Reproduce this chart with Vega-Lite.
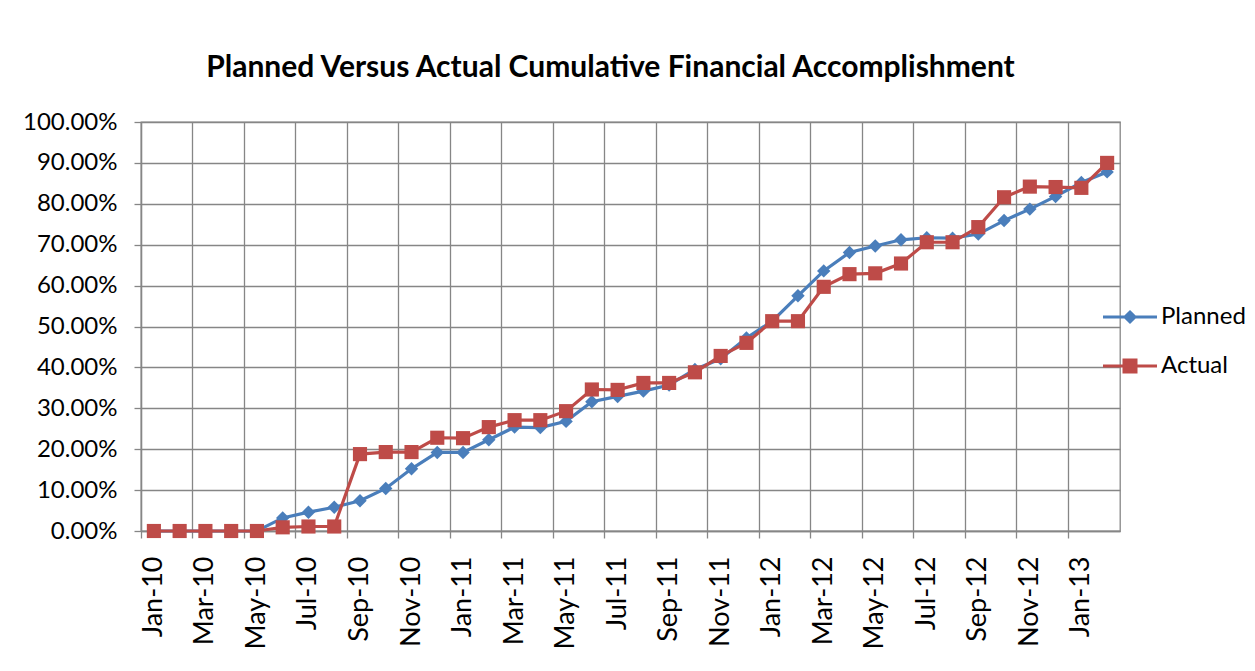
{
  "$schema": "https://vega.github.io/schema/vega-lite/v6.json",
  "autosize": "none",
  "width": 979,
  "height": 409,
  "padding": {"left": 141, "top": 122, "right": 135, "bottom": 140},
  "background": "white",
  "config": {
    "view": {"stroke": "#868686", "strokeWidth": 1.3},
    "font": "Lato"
  },
  "title": {
    "text": "Planned Versus Actual Cumulative Financial Accomplishment",
    "font": "Lato",
    "fontSize": 30,
    "fontWeight": "bold",
    "color": "black",
    "anchor": "middle",
    "frame": "group",
    "baseline": "alphabetic",
    "offset": 3,
    "dx": -20
  },
  "data": {
    "values": [
      {"m": "Jan-10", "Planned": 0, "Actual": 0},
      {"m": "Feb-10", "Planned": 0, "Actual": 0},
      {"m": "Mar-10", "Planned": 0, "Actual": 0},
      {"m": "Apr-10", "Planned": 0, "Actual": 0},
      {"m": "May-10", "Planned": 0, "Actual": 0},
      {"m": "Jun-10", "Planned": 0.032, "Actual": 0.009},
      {"m": "Jul-10", "Planned": 0.046, "Actual": 0.011},
      {"m": "Aug-10", "Planned": 0.058, "Actual": 0.011},
      {"m": "Sep-10", "Planned": 0.074, "Actual": 0.188},
      {"m": "Oct-10", "Planned": 0.104, "Actual": 0.193},
      {"m": "Nov-10", "Planned": 0.152, "Actual": 0.193},
      {"m": "Dec-10", "Planned": 0.192, "Actual": 0.228},
      {"m": "Jan-11", "Planned": 0.192, "Actual": 0.227},
      {"m": "Feb-11", "Planned": 0.223, "Actual": 0.254},
      {"m": "Mar-11", "Planned": 0.254, "Actual": 0.271},
      {"m": "Apr-11", "Planned": 0.253, "Actual": 0.271},
      {"m": "May-11", "Planned": 0.268, "Actual": 0.293},
      {"m": "Jun-11", "Planned": 0.316, "Actual": 0.346},
      {"m": "Jul-11", "Planned": 0.329, "Actual": 0.345},
      {"m": "Aug-11", "Planned": 0.342, "Actual": 0.362},
      {"m": "Sep-11", "Planned": 0.357, "Actual": 0.362},
      {"m": "Oct-11", "Planned": 0.395, "Actual": 0.388},
      {"m": "Nov-11", "Planned": 0.421, "Actual": 0.428},
      {"m": "Dec-11", "Planned": 0.472, "Actual": 0.46},
      {"m": "Jan-12", "Planned": 0.513, "Actual": 0.513},
      {"m": "Feb-12", "Planned": 0.575, "Actual": 0.513},
      {"m": "Mar-12", "Planned": 0.636, "Actual": 0.597},
      {"m": "Apr-12", "Planned": 0.681, "Actual": 0.628},
      {"m": "May-12", "Planned": 0.697, "Actual": 0.63},
      {"m": "Jun-12", "Planned": 0.712, "Actual": 0.654},
      {"m": "Jul-12", "Planned": 0.717, "Actual": 0.706},
      {"m": "Aug-12", "Planned": 0.716, "Actual": 0.706},
      {"m": "Sep-12", "Planned": 0.726, "Actual": 0.743},
      {"m": "Oct-12", "Planned": 0.759, "Actual": 0.816},
      {"m": "Nov-12", "Planned": 0.787, "Actual": 0.842},
      {"m": "Dec-12", "Planned": 0.818, "Actual": 0.841},
      {"m": "Jan-13", "Planned": 0.852, "Actual": 0.839},
      {"m": "Feb-13", "Planned": 0.878, "Actual": 0.9}
    ]
  },
  "transform": [{"fold": ["Planned", "Actual"], "as": ["series", "value"]}],
  "encoding": {
    "x": {
      "field": "m",
      "type": "nominal",
      "sort": null,
      "scale": {"type": "band", "paddingInner": 0, "paddingOuter": 0},
      "axis": {
        "title": null,
        "values": ["Jan-10","Mar-10","May-10","Jul-10","Sep-10","Nov-10","Jan-11","Mar-11","May-11","Jul-11","Sep-11","Nov-11","Jan-12","Mar-12","May-12","Jul-12","Sep-12","Nov-12","Jan-13"],
        "bandPosition": 0,
        "labelOffset": 0,
        "labelAngle": -90,
        "labelAlign": "right",
        "labelBaseline": "middle",
        "labelFont": "Lato",
        "labelFontSize": 27,
        "labelColor": "black",
        "labelPadding": 18,
        "labelOverlap": false,
        "tickSize": 7,
        "tickColor": "#868686",
        "tickWidth": 1.3,
        "domainColor": "#868686",
        "domainWidth": 1.3,
        "grid": true,
        "gridColor": "#868686",
        "gridWidth": 1.3
      }
    },
    "y": {
      "field": "value",
      "type": "quantitative",
      "scale": {"domain": [0, 1], "nice": false},
      "axis": {
        "title": null,
        "values": [0, 0.1, 0.2, 0.3, 0.4, 0.5, 0.6, 0.7, 0.8, 0.9, 1],
        "format": ".2%",
        "labelFont": "Lato",
        "labelFontSize": 24,
        "labelColor": "black",
        "labelPadding": 17,
        "tickSize": 7,
        "tickColor": "#868686",
        "tickWidth": 1.3,
        "domainColor": "#868686",
        "domainWidth": 1.3,
        "grid": true,
        "gridColor": "#868686",
        "gridWidth": 1.3
      }
    },
    "color": {
      "field": "series",
      "type": "nominal",
      "scale": {"domain": ["Planned", "Actual"], "range": ["#4A7EBB", "#BE4B48"]},
      "legend": {
        "title": null,
        "orient": "none",
        "legendX": 977,
        "legendY": 183,
        "padding": 0,
        "symbolSize": 400,
        "labelFont": "Lato",
        "labelFontSize": 24,
        "labelColor": "black",
        "labelOffset": 19,
        "rowPadding": 25,
        "encode": {
          "symbols": {
            "update": {
              "shape": {"signal": "datum.value === 'Planned' ? 'M-2.7,0H2.7M0,-0.5L0.5,0L0,0.5L-0.5,0Z' : 'M-2.7,0H2.7M-0.6,-0.6H0.6V0.6H-0.6Z'"},
              "fill": {"signal": "scale('color', datum.value)"},
              "stroke": {"signal": "scale('color', datum.value)"},
              "strokeWidth": {"value": 3},
              "opacity": {"value": 1},
              "fillOpacity": {"value": 1}
            }
          }
        }
      }
    }
  },
  "layer": [
    {
      "transform": [{"filter": "datum.series === 'Planned'"}],
      "mark": {"type": "line", "strokeWidth": 3.2}
    },
    {
      "transform": [{"filter": "datum.series === 'Planned'"}],
      "mark": {"type": "point", "shape": "diamond", "filled": true, "size": 180, "opacity": 1}
    },
    {
      "transform": [{"filter": "datum.series === 'Actual'"}],
      "mark": {"type": "line", "strokeWidth": 3.2}
    },
    {
      "transform": [{"filter": "datum.series === 'Actual'"}],
      "mark": {"type": "point", "shape": "square", "filled": true, "size": 200, "opacity": 1}
    }
  ]
}
